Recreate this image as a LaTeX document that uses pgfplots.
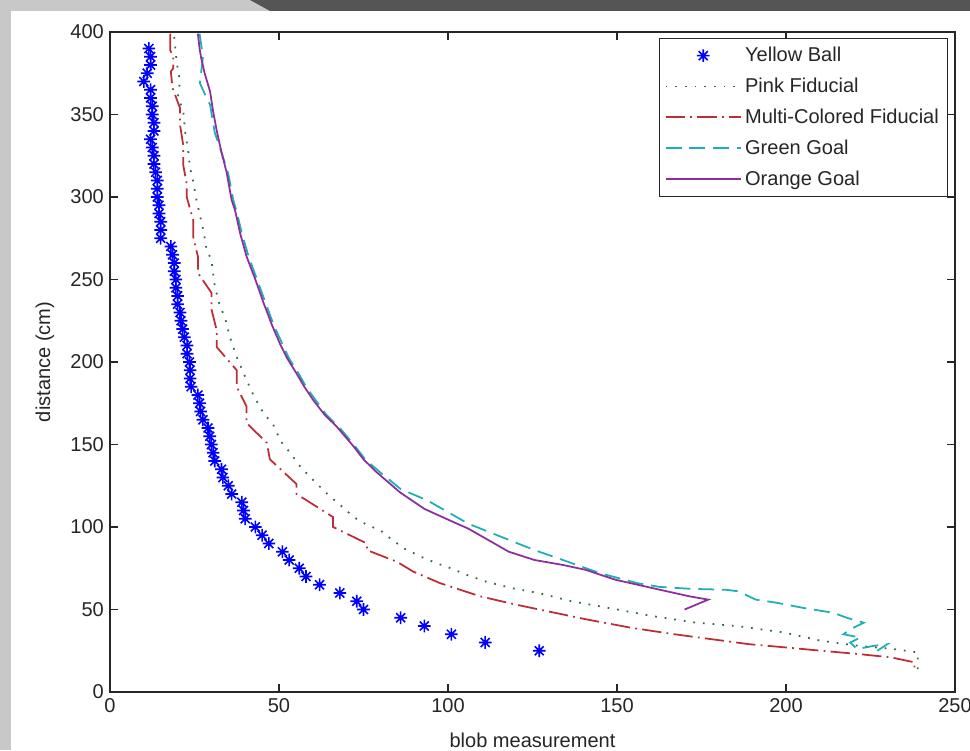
\documentclass[border=0pt]{standalone}
\usepackage{fontspec}
\setmainfont{Liberation Sans}
\usepackage{pgfplots}
\pgfplotsset{compat=1.18}
\definecolor{ballblue}{RGB}{0,0,255}
\definecolor{pinkfid}{RGB}{50,110,60}
\definecolor{multifid}{RGB}{190,45,55}
\definecolor{greengoal}{RGB}{30,175,180}
\definecolor{orangegoal}{RGB}{140,45,160}
\definecolor{framelight}{RGB}{200,200,200}
\definecolor{framedark}{RGB}{85,85,85}

% matlab style '*' marker: plus and cross on top of each other
\pgfdeclareplotmark{mstar}{%
  \pgfpathmoveto{\pgfpoint{-\pgfplotmarksize}{0pt}}%
  \pgfpathlineto{\pgfpoint{\pgfplotmarksize}{0pt}}%
  \pgfpathmoveto{\pgfpoint{0pt}{-\pgfplotmarksize}}%
  \pgfpathlineto{\pgfpoint{0pt}{\pgfplotmarksize}}%
  \pgfpathmoveto{\pgfpoint{-0.707\pgfplotmarksize}{-0.707\pgfplotmarksize}}%
  \pgfpathlineto{\pgfpoint{0.707\pgfplotmarksize}{0.707\pgfplotmarksize}}%
  \pgfpathmoveto{\pgfpoint{-0.707\pgfplotmarksize}{0.707\pgfplotmarksize}}%
  \pgfpathlineto{\pgfpoint{0.707\pgfplotmarksize}{-0.707\pgfplotmarksize}}%
  \pgfusepathqstroke}

\newcommand{\figfont}{\fontsize{11.4}{13}\selectfont}

\begin{document}
\begin{tikzpicture}
\path[use as bounding box] (-2.2,-1.16) rectangle (17.2,13.84);
\fill[white] (-2.2,-1.16) rectangle (17.2,13.84);
\fill[framelight] (-2.2,-1.16) rectangle (-1.98,13.84);
\fill[framelight] (-2.2,13.84) -- (2.8,13.84) -- (3.2,13.62) -- (-2.2,13.62) -- cycle;
\fill[framedark] (2.8,13.84) -- (17.2,13.84) -- (17.2,13.62) -- (3.2,13.62) -- cycle;

\begin{axis}[
    at={(0,0)}, anchor=south west,
    scale only axis,
    width=16.9cm, height=13.2cm,
    xmin=0, xmax=250, ymin=0, ymax=400,
    xtick={0,50,...,250}, ytick={0,50,...,400},
    tick align=inside,
    major tick length=0.16cm,
    axis line style={black!85, line width=0.6pt},
    tick style={black!85, line width=0.6pt},
    ticklabel style={font=\figfont, text=black!85},
    /pgf/number format/assume math mode=true,
    xlabel={blob measurement},
    ylabel={distance (cm)},
    label style={font=\figfont, text=black!85},
    x label style={at={(axis description cs:0.5,-0.073)}, anchor=center},
    y label style={at={(axis description cs:-0.077,0.5)}, anchor=center},
    legend image code/.code={
        \draw[mark repeat=2,mark phase=2,#1] plot coordinates {(0cm,0cm) (0.75cm,0cm) (1.5cm,0cm)};
    },
    legend cell align=left,
    legend style={at={(0.9917,0.991)}, anchor=north east, draw=black!85,
        font=\figfont, text=black!85, row sep=3.8pt, inner sep=3pt},
]
\addplot[only marks, mark=mstar, mark size=3.6pt, ballblue, line width=0.9pt] coordinates {
 (11.5,390) (12,385) (12,380) (11,375) (10,370) (12,365) (12,360) (12.5,355)
 (12.5,350) (13,345) (13,340) (12,335) (12.5,330) (13,325) (13,320) (13.5,315)
 (14,310) (14,305) (14,300) (14.5,295) (14.5,290) (15,285) (15,280) (15,275)
 (18,270) (18.5,265) (19,260) (19,255) (19.5,250) (19.5,245) (20,240) (20,235)
 (20.7,230) (21,225) (21.5,220) (22,215) (22.8,210) (22.8,205) (23.5,200) (23.7,195)
 (23.7,190) (24,185) (26,180) (26.5,175) (26.8,170) (27.5,165) (29,160) (29.5,155)
 (30,150) (30.5,145) (31,140) (33,135) (33.4,130) (35,125) (36,120) (39,115)
 (39.5,110) (40,105) (43,100) (45,95) (47,90) (51,85) (53,80) (56,75)
 (58,70) (62,65) (68,60) (73,55) (75,50) (86,45) (93,40) (101,35) (111,30) (127,25)
};
\addlegendentry{Yellow Ball}
\addplot[pinkfid, line width=1pt, dash pattern=on 1pt off 4.5pt] coordinates {
 (19,397) (19.2,393) (19.7,382) (20.7,370) (20.1,361) (21.7,352) (22.2,340) (23.2,327)
 (23.7,317) (24.2,314) (25.6,298) (27.6,280) (28.6,268) (30,262) (31,246) (32.5,234)
 (34,227) (35.5,215) (37.5,203) (40,191) (42.4,180) (45.4,169) (48.3,162) (50.5,152)
 (53.7,144) (55.7,138) (58.2,132.5) (60.1,128.5) (64.6,119.4) (67.5,114.4) (70.5,109)
 (73.5,104) (76.4,101) (80,98) (83,93) (87,87) (92,82) (96.6,78) (99.6,76) (105.5,71)
 (111.4,66.8) (119.3,62.8) (127.2,59.8) (136.5,55) (147.4,51) (160.5,46) (173.5,42)
 (185.5,40) (199.6,36) (210.5,31) (221.5,28) (232,26) (239,24) (239,13)
};
\addlegendentry{Pink Fiducial}
\addplot[multifid, line width=1pt, dash pattern=on 11pt off 3pt on 1pt off 3pt] coordinates {
 (17.8,399) (17.8,389) (18.7,385) (18.7,378) (18,376) (18.5,366) (20.7,354) (20.7,344)
 (21.7,331) (21.7,319) (22.7,308) (22.7,300) (24.6,286) (24.6,276) (26,264) (26,254)
 (30,242) (30,232) (31.6,219) (31.6,209) (37.5,195) (37.5,185) (40.4,173) (40.4,163)
 (46.4,151) (47.3,141) (55.2,126) (55.2,120) (66,106) (66,100) (76,90) (76,86)
 (84.8,79) (89.7,73) (97.6,66) (109.5,58) (120,53) (130,48.7) (141,44) (154,39)
 (167,35) (178,32) (189,29) (200,27) (210.5,25) (221.5,23) (231,21) (238,18) (238,14)
};
\addlegendentry{Multi-Colored Fiducial}
\addplot[greengoal, line width=1pt, dash pattern=on 9pt off 4.5pt] coordinates {
 (26.5,399) (27.5,385) (26.6,369) (28.6,360) (29.6,356) (31,339) (33,327) (35,314)
 (36.5,298) (37.5,291) (39,278) (41,264) (43.5,250) (46,236) (48.5,222) (51,211)
 (53,202) (55.8,193) (58,185) (60.8,177) (64,168) (68,160) (72.5,149) (75.5,141)
 (80,133) (86,123) (94,116) (106,102) (115.8,94) (125.6,86) (134,80) (145,72)
 (156,66) (162.6,63.7) (172,62.5) (182,62) (186,61) (191,56) (197.5,54) (205,51)
 (214,48) (218,45) (223,42) (219,38) (217,35) (222,33) (219,30) (221,26) (226,28) (230,29) (227,25)
};
\addlegendentry{Green Goal}
\addplot[orangegoal, line width=1pt] coordinates {
 (26,399) (26.5,390) (27,384) (28,375) (29.6,364) (30.5,352) (31.6,340) (33,327)
 (34.5,315) (36,298) (37,292) (38.5,278) (40.4,264) (43,250) (45.4,236) (48,222)
 (50.3,211) (52.5,202) (55.2,193) (57.5,185) (60.1,177) (63.5,168) (67,161) (72,149)
 (75,141) (79,133) (85.8,121) (93,111) (101.6,103) (106,99) (110.3,94) (118,85)
 (125.6,80) (134,77) (140.8,74) (149.6,68) (158.3,64) (164.8,61) (171.4,58) (177,56) (170,50)
};
\addlegendentry{Orange Goal}
\end{axis}
\end{tikzpicture}
\end{document}
